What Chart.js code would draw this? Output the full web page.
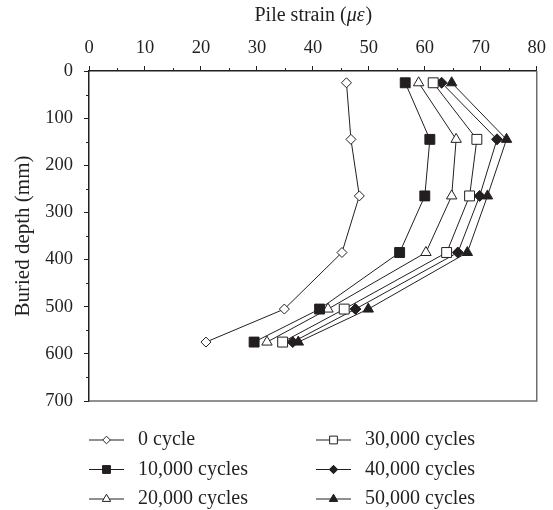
<!DOCTYPE html>
<html>
<head>
<meta charset="utf-8">
<script src="https://cdn.jsdelivr.net/npm/chart.js@4/dist/chart.umd.min.js"></script>
<style>
html,body{margin:0;padding:0;background:#fff;}
#wrap{width:553px;height:510px;position:relative;}
</style>
</head>
<body>
<div id="wrap"><canvas id="c" width="553" height="510"></canvas></div>
<script>
// ---- data ----
const depths = [25, 145, 265, 385, 505, 575];
const seriesLabels = ['0 cycle', '10,000 cycles', '20,000 cycles', '30,000 cycles', '40,000 cycles', '50,000 cycles'];
const strain0 = [46.0, 46.8, 48.3, 45.2, 34.9, 20.9];
const strain10k = [56.5, 60.9, 60.0, 55.5, 41.2, 29.5];
const strain20k = [58.9, 65.6, 64.8, 60.2, 42.7, 31.8];
const strain30k = [61.5, 69.3, 68.0, 63.9, 45.6, 34.6];
const strain40k = [63.0, 72.9, 69.8, 65.9, 47.6, 36.4];
const strain50k = [64.8, 74.6, 71.2, 67.6, 49.9, 37.4];
const xTickValues = [0, 10, 20, 30, 40, 50, 60, 70, 80];
const yTickValues = [0, 100, 200, 300, 400, 500, 600, 700];
const xTitle = 'Pile strain (';
const xTitleItalic = 'με';
const xTitleEnd = ')';
const yTitle = 'Buried depth (mm)';

const INK = '#231f20';
const FONT = '"Liberation Serif", "Times New Roman", serif';

const allSeries = [strain0, strain10k, strain20k, strain30k, strain40k, strain50k];
const styles = [
  {pointStyle: 'rectRot', r: 5, fill: '#ffffff', lr: 3.8},
  {pointStyle: 'rect', r: 7, fill: INK, lr: 5.5},
  {pointStyle: 'triangle', r: 6, fill: '#ffffff', lr: 4.8},
  {pointStyle: 'rect', r: 7, fill: '#ffffff', lr: 5.5},
  {pointStyle: 'rectRot', r: 5.5, fill: INK, lr: 4.2},
  {pointStyle: 'triangle', r: 6, fill: INK, lr: 4.8}
];

const datasets = allSeries.map((vals, i) => ({
  label: seriesLabels[i],
  data: vals.map((v, j) => ({x: v, y: depths[j]})),
  showLine: true,
  tension: 0,
  borderColor: INK,
  borderWidth: 1,
  pointStyle: styles[i].pointStyle,
  pointRadius: styles[i].r,
  pointHoverRadius: styles[i].r,
  pointBackgroundColor: styles[i].fill,
  pointBorderColor: INK,
  pointBorderWidth: 1
}));

const extras = {
  id: 'extras',
  afterDraw(chart) {
    const ctx = chart.ctx;
    const ca = chart.chartArea;
    const xs = chart.scales.x, ys = chart.scales.y;
    ctx.save();
    // right & bottom frame
    ctx.strokeStyle = '#6d6e71';
    ctx.lineWidth = 1.5;
    ctx.beginPath();
    ctx.moveTo(ca.right, ca.top);
    ctx.lineTo(ca.right, ca.bottom);
    ctx.lineTo(ca.left, ca.bottom);
    ctx.stroke();
    // minor ticks
    ctx.strokeStyle = INK;
    ctx.lineWidth = 1;
    ctx.beginPath();
    for (let v = 5; v < 80; v += 10) {
      const px = Math.round(xs.getPixelForValue(v)) + 0.5;
      ctx.moveTo(px, ca.top);
      ctx.lineTo(px, ca.top - 3);
    }
    for (let v = 50; v < 700; v += 100) {
      const py = Math.round(ys.getPixelForValue(v)) + 0.5;
      ctx.moveTo(ca.left, py);
      ctx.lineTo(ca.left - 3, py);
    }
    ctx.stroke();
    // top title with italic part
    ctx.fillStyle = INK;
    ctx.textBaseline = 'middle';
    const f1 = '20px ' + FONT, f2 = 'italic 20px ' + FONT;
    ctx.font = f1; const w1 = ctx.measureText(xTitle).width; const w3 = ctx.measureText(xTitleEnd).width;
    ctx.font = f2; const w2 = ctx.measureText(xTitleItalic).width;
    let tx = (ca.left + ca.right) / 2 - (w1 + w2 + w3) / 2;
    const ty = 16;
    ctx.textAlign = 'left';
    ctx.font = f1; ctx.fillText(xTitle, tx, ty); tx += w1;
    ctx.font = f2; ctx.fillText(xTitleItalic, tx, ty); tx += w2 + 1;
    ctx.font = f1; ctx.fillText(xTitleEnd, tx, ty);
    // legend
    const colX = [89, 316];
    const rowY = [440, 469.5, 499];
    chart.data.datasets.forEach((ds, i) => {
      const col = Math.floor(i / 3), row = i % 3;
      const x0 = colX[col], y0 = rowY[row];
      ctx.strokeStyle = INK; ctx.lineWidth = 1;
      ctx.beginPath(); ctx.moveTo(x0, y0); ctx.lineTo(x0 + 35, y0); ctx.stroke();
      ctx.fillStyle = styles[i].fill; ctx.strokeStyle = INK;
      ctx.beginPath();
      Chart.helpers.drawPoint(ctx, {pointStyle: ds.pointStyle, radius: styles[i].lr, rotation: 0}, x0 + 17.5, y0);
      ctx.fill(); ctx.stroke();
      ctx.fillStyle = INK;
      ctx.font = '20px ' + FONT;
      ctx.textAlign = 'left';
      ctx.textBaseline = 'middle';
      ctx.fillText(ds.label, x0 + 49, y0);
    });
    ctx.restore();
  }
};

new Chart(document.getElementById('c'), {
  type: 'scatter',
  data: {datasets},
  options: {
    responsive: false,
    animation: false,
    devicePixelRatio: 1,
    layout: {padding: {left: 0, right: 11, top: 0, bottom: 109}},
    plugins: {legend: {display: false}, tooltip: {enabled: false}, title: {display: false}},
    scales: {
      x: {
        type: 'linear', position: 'top', min: 0, max: 80,
        afterBuildTicks: (s) => { s.ticks = xTickValues.map(v => ({value: v})); },
        afterFit: (s) => { s.height = 71; },
        ticks: {color: INK, font: {family: FONT, size: 18.5}, padding: 7, maxRotation: 0},
        grid: {drawOnChartArea: false, drawTicks: true, tickLength: 5, color: INK, lineWidth: 1},
        border: {display: true, color: INK, width: 1.5}
      },
      y: {
        type: 'linear', position: 'left', reverse: true, min: 0, max: 700,
        afterBuildTicks: (s) => { s.ticks = yTickValues.map(v => ({value: v})); },
        afterFit: (s) => { s.width = 89; },
        ticks: {color: INK, font: {family: FONT, size: 18.5}, padding: 11},
        grid: {drawOnChartArea: false, drawTicks: true, tickLength: 5, color: INK, lineWidth: 1},
        border: {display: true, color: INK, width: 1.5},
        title: {display: true, text: yTitle, color: INK, font: {family: FONT, size: 21}, padding: {top: 11, bottom: 0}}
      }
    }
  },
  plugins: [extras]
});
</script>
</body>
</html>
